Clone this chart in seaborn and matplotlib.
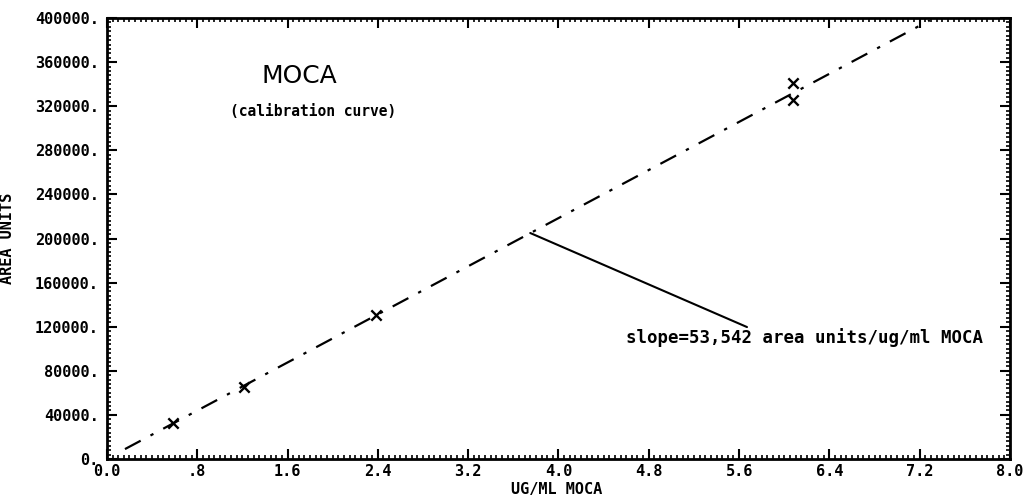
import pandas as pd
import seaborn as sns
import matplotlib.pyplot as plt
from matplotlib.ticker import MultipleLocator, FixedLocator

# calibration points
conc = [0.585, 1.21, 2.38, 6.08, 6.08]
area = [32700, 65300, 130600, 341000, 325600]

# fitted line end points
fit_x = [0.16, 7.29]
fit_y = [9000, 398000]

# leader from the line to the slope label
lead_x = [3.75, 5.67]
lead_y = [205000, 119700]

x_ticks = [0.0, 0.8, 1.6, 2.4, 3.2, 4.0, 4.8, 5.6, 6.4, 7.2, 8.0]
x_labels = ["0.0", ".8", "1.6", "2.4", "3.2", "4.0", "4.8", "5.6", "6.4", "7.2", "8.0"]
y_ticks = [0, 40000, 80000, 120000, 160000, 200000, 240000, 280000, 320000, 360000, 400000]
y_labels = [f"{v}." for v in y_ticks]

df = pd.DataFrame({"conc": conc, "area": area})
fit = pd.DataFrame({"x": fit_x, "y": fit_y})

sns.set_style("ticks")
plt.rcParams['font.family'] = ['DejaVu Sans Mono', 'DejaVu Sans']
for k in ["text.color", "axes.labelcolor", "xtick.color", "ytick.color", "axes.edgecolor"]:
    plt.rcParams[k] = "black"
mono = {"family": "DejaVu Sans Mono", "weight": "bold"}

fig = plt.figure(figsize=(10.28, 4.96), dpi=100)
ax = fig.add_axes([0.104, 0.0746, 0.8785, 0.889])

sns.lineplot(data=fit, x="x", y="y", ax=ax, color="black", lw=1.6,
             dashes=False, linestyle=(0, (8, 5, 1.5, 5)))
sns.scatterplot(data=df, x="conc", y="area", ax=ax, marker="x", s=55,
                color="black", linewidth=1.7, zorder=3)
ax.plot(lead_x, lead_y, color="black", lw=1.5)

ax.text(1.373, 341000, "MOCA", fontsize=18, family="DejaVu Sans", color="black")
ax.text(1.09, 315600, "(calibration curve)", fontsize=10.5, va="center", **mono)
ax.text(4.6, 110000, "slope=53,542 area units/ug/ml MOCA", fontsize=12.5, va="center", **mono)

ax.set_xlim(0, 8.0)
ax.set_ylim(0, 400000)
ax.xaxis.set_major_locator(FixedLocator(x_ticks))
ax.set_xticklabels(x_labels, **mono, fontsize=11)
ax.yaxis.set_major_locator(FixedLocator(y_ticks))
ax.set_yticklabels(y_labels, **mono, fontsize=11)
ax.xaxis.set_minor_locator(MultipleLocator(0.05))
ax.yaxis.set_minor_locator(MultipleLocator(4000))
ax.tick_params(which="both", direction="in", top=True, right=True, color="black")
ax.tick_params(which="major", length=7, width=1.5, pad=6)
ax.tick_params(axis="x", which="major", pad=3.5)
ax.tick_params(which="minor", length=3, width=1.2)
for s in ax.spines.values():
    s.set_linewidth(2)
    s.set_color("black")

ax.set_xlabel("UG/ML MOCA", fontsize=11, **mono)
ax.set_ylabel("AREA UNITS", fontsize=11, **mono)
ax.xaxis.set_label_coords(0.498, -0.052)
ax.yaxis.set_label_coords(-0.102, 0.5)

fig.savefig("out.png", dpi=100)
